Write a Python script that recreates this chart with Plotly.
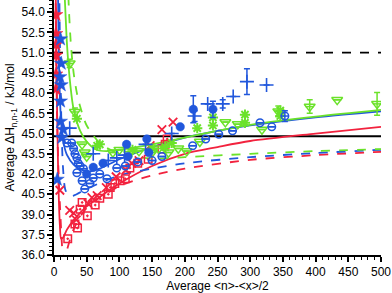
import plotly.graph_objects as go

RED = "#f2223e"
BLUE = "#2157dc"
GREEN = "#6be22a"

# ---- fitted curves ----
red_fit_x = [2.5, 4, 5.5, 7, 9, 11, 14, 20, 32, 50, 70, 100, 150, 200, 250, 300, 400, 500]
red_fit_y = [56, 49, 44.5, 40.8, 38.2, 37.2, 37.3, 37.9, 38.7, 39.6, 40.3, 41.3, 42.6, 43.5, 44.0, 44.45, 45.0, 45.5]
red_dash_x = [2.2, 3.5, 5, 7, 9, 11, 13, 16, 20, 30, 50, 100, 150, 200, 300, 400, 500]
red_dash_y = [56, 50, 45.5, 42, 39.8, 37.8, 36.3, 35.6, 36.4, 37.9, 39.5, 41.1, 41.9, 42.4, 43.05, 43.4, 43.65]
blue_fit_x = [6, 7, 8, 10, 12, 15, 20, 30, 40, 55, 70, 100, 150, 200, 250, 300, 400, 500]
blue_fit_y = [56, 52, 49.3, 46.6, 45.2, 44.2, 43.4, 42.7, 42.35, 42.2, 42.4, 43.1, 44.0, 44.7, 45.2, 45.6, 46.2, 46.65]
blue_dash_x = [8, 9, 10, 11, 12, 14, 17, 22, 30, 50, 100, 150, 200, 300, 400, 500]
blue_dash_y = [56, 52, 49, 46.5, 44.5, 42.3, 40.9, 40.4, 40.4, 40.9, 41.9, 42.4, 42.8, 43.25, 43.55, 43.8]
green_fit_x = [15, 17, 20, 25, 30, 40, 50, 65, 80, 100, 150, 200, 250, 300, 400, 500]
green_fit_y = [56.5, 54.5, 51.5, 48.6, 46.8, 45.2, 44.4, 43.8, 43.7, 43.8, 44.2, 44.7, 45.2, 45.65, 46.25, 46.75]
green_dash_x = [21, 23, 26, 30, 35, 40, 50, 70, 100, 150, 200, 300, 400, 500]
green_dash_y = [56.5, 54, 51.5, 49.5, 48.0, 47.0, 45.6, 44.3, 43.5, 43.15, 43.25, 43.5, 43.7, 43.85]

ref_x = [0, 500]
ref_solid = [44.8, 44.8]
ref_dash = [51.0, 51.0]

# ---- data points ----
red_star_x = [3, 3, 3, 3, 3, 3]
red_star_y = [53.8, 52.4, 51.6, 50.8, 49.4, 48.3]

red_x_x = [9, 24, 30, 34, 52, 58, 66, 80, 95, 110, 119, 130, 147, 165, 182]
red_x_y = [40.8, 39.3, 39.1, 38.6, 39.8, 40.25, 40.4, 41.0, 41.8, 42.3, 42.8, 43.0, 44.1, 45.3, 45.85]

red_sq_x = [21, 32, 36, 40, 43, 51, 63, 70, 83, 86, 93, 101, 109, 116, 128, 144, 165, 170, 173]
red_sq_y = [37.2, 38.3, 38.0, 39.4, 39.9, 38.9, 39.7, 40.2, 40.5, 41.0, 41.3, 41.5, 41.65, 42.45, 42.8, 43.1, 43.85, 44.2, 44.6]

blue_star_x = [10, 11, 9, 11, 10, 10, 14, 12, 5]
blue_star_y = [52.0, 50.2, 49.2, 48.6, 47.4, 45.9, 45.3, 44.7, 41.6]

blue_oc_x = [20, 27, 30, 32, 35, 37, 40, 35, 43, 47, 45, 55, 60, 70, 81, 96, 109, 128, 150, 165, 212, 232, 252, 273, 315, 333, 353]
blue_oc_y = [44.3, 44.3, 43.9, 43.5, 43.2, 42.8, 42.6, 42.1, 41.5, 40.9, 42.4, 41.3, 41.7, 42.0, 41.65, 42.45, 42.6, 42.9, 43.0, 43.3, 44.1, 44.6, 44.95, 45.2, 45.8, 45.5, 46.3]
blue_oc_err = [0, 0, 0, 0, 0, 0, 0, 0, 0, 0, 0, 0, 0, 0, 0, 0, 0, 0, 0, 0, 0, 0, 0, 0, 0, 0, 0.4]

blue_fc_x = [50, 60, 75, 111, 113, 142, 145, 193, 213, 243]
blue_fc_y = [42.0, 42.5, 42.8, 44.2, 43.3, 44.6, 43.6, 45.5, 46.8, 46.8]
blue_fc_err = [0, 0, 0, 0, 0, 0, 0, 0, 1.0, 0.6]

blue_plus_x = [24, 60, 83, 96, 108, 140, 180, 215, 235, 258, 274, 295, 325]
blue_plus_y = [45.4, 43.5, 43.0, 43.2, 43.4, 44.2, 45.0, 46.3, 47.2, 47.2, 47.75, 48.85, 48.6]
blue_plus_err = [0, 0, 0, 0, 0, 0, 0, 0.4, 0, 0.3, 0, 0.95, 0]

green_tri_x = [24, 32, 43, 47, 50, 90, 100, 115, 130, 150, 160, 175, 190, 203, 223, 262, 281, 318, 343, 391, 433, 494]
green_tri_y = [50.2, 46.6, 44.2, 43.6, 43.3, 43.6, 43.8, 43.5, 43.7, 43.6, 43.9, 43.6, 43.9, 43.7, 44.4, 45.85, 45.7, 45.3, 46.65, 47.0, 47.5, 47.2]
green_tri_err = [0.3, 0.3, 0, 0, 0, 0, 0, 0, 0, 0, 0, 0, 0, 0, 0, 0, 0, 0, 0.4, 0.5, 0, 0.85]

green_ast_x = [35, 66, 70, 120, 150, 170, 180, 219, 243, 243, 292, 292, 346, 346]
green_ast_y = [46.1, 44.1, 44.2, 43.8, 43.9, 44.0, 44.3, 45.4, 46.2, 45.6, 46.4, 45.8, 46.7, 46.3]

x_tick_vals = [0, 50, 100, 150, 200, 250, 300, 350, 400, 450, 500]
y_tick_vals = [36.0, 37.5, 39.0, 40.5, 42.0, 43.5, 45.0, 46.5, 48.0, 49.5, 51.0, 52.5, 54.0]

fig = go.Figure()

def curve(x, y, color, dash):
    fig.add_trace(go.Scatter(x=x, y=y, mode="lines", line=dict(color=color, width=1.8, dash=dash, shape="spline", smoothing=0.8),
                             showlegend=False, hoverinfo="skip"))

curve(ref_x, ref_solid, "black", "solid")
curve(ref_x, ref_dash, "black", "dash")
curve(red_fit_x, red_fit_y, RED, "solid")
curve(red_dash_x, red_dash_y, RED, "dash")
curve(blue_fit_x, blue_fit_y, BLUE, "solid")
curve(blue_dash_x, blue_dash_y, BLUE, "dash")
curve(green_fit_x, green_fit_y, GREEN, "solid")
curve(green_dash_x, green_dash_y, GREEN, "dash")

def pts(x, y, color, symbol, size, err=None, lw=1.5):
    kw = {}
    if err is not None:
        kw["error_y"] = dict(type="data", array=err, visible=True, color=color, thickness=1.5, width=3)
    fig.add_trace(go.Scatter(x=x, y=y, mode="markers",
                             marker=dict(color=color, symbol=symbol, size=size, line=dict(color=color, width=lw)),
                             showlegend=False, cliponaxis=True, **kw))

pts(red_sq_x, red_sq_y, RED, "square-open-dot", 7.5)
pts(red_x_x, red_x_y, RED, "x-thin-open", 8.5, lw=1.8)
pts(red_star_x, red_star_y, RED, "star", 10.5, lw=0.5)
pts(green_ast_x, green_ast_y, GREEN, "asterisk-open", 8.5, lw=2)
pts(green_tri_x, green_tri_y, GREEN, "triangle-down-open", 9.5, err=green_tri_err)
pts(green_tri_x, green_tri_y, GREEN, "line-ew-open", 6)
pts(blue_oc_x, blue_oc_y, BLUE, "circle-open", 7.5, err=blue_oc_err)
pts(blue_oc_x, blue_oc_y, BLUE, "line-ew-open", 6)
pts(blue_fc_x, blue_fc_y, BLUE, "circle", 8.5, err=blue_fc_err, lw=0.5)
pts(blue_plus_x, blue_plus_y, BLUE, "cross-thin-open", 10, err=blue_plus_err, lw=1.6)
pts(blue_star_x, blue_star_y, BLUE, "star", 10.5, lw=0.5)

fig.update_layout(
    width=392, height=293,
    margin=dict(l=54, r=11, t=0, b=38),
    paper_bgcolor="white", plot_bgcolor="white",
    font=dict(family="Liberation Sans, Arial", size=12, color="black"),
    xaxis=dict(range=[0, 500], tickvals=x_tick_vals, showgrid=False, zeroline=False,
               showline=True, linecolor="black", linewidth=1.5, ticks="outside", ticklen=5,
               tickwidth=1.5, tickcolor="black",
               minor=dict(dtick=10, tick0=0, ticks="outside", ticklen=3, tickcolor="black", tickwidth=1),
               title=dict(text="Average &lt;n&gt;-&lt;x&gt;/2", font=dict(size=12), standoff=2)),
    yaxis=dict(range=[36, 54.9], tickvals=y_tick_vals, tickformat=".1f", showgrid=False, zeroline=False,
               showline=True, linecolor="black", linewidth=1.5, ticks="outside", ticklen=5,
               tickwidth=1.5, tickcolor="black",
               minor=dict(dtick=0.3, tick0=36, ticks="outside", ticklen=3, tickcolor="black", tickwidth=1),
               title=dict(text="Average ΔH<sub>n,n-1</sub> / kJ/mol", font=dict(size=12), standoff=4)),
)

fig.write_html("out.html", config={"displayModeBar": False},
               post_script="document.body.style.margin='0px';document.body.style.overflow='hidden';")
